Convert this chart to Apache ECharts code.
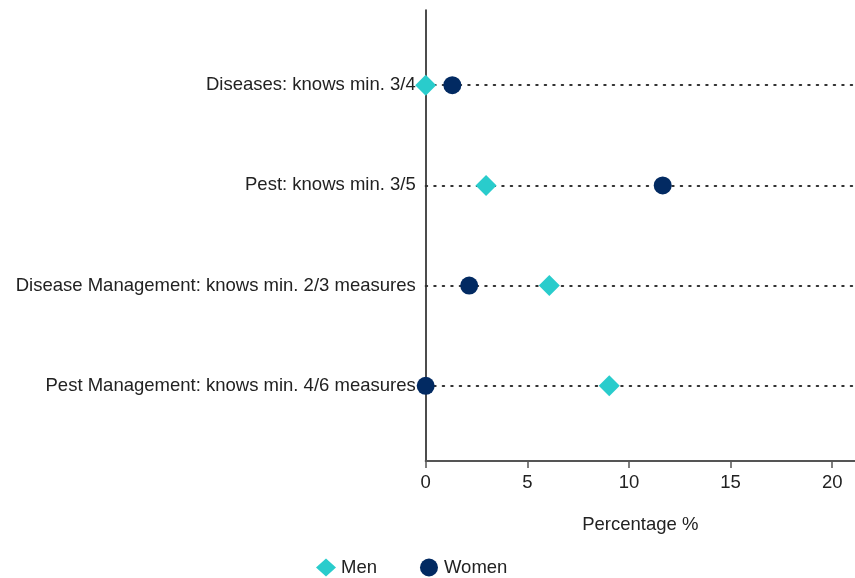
<!DOCTYPE html>
<html>
<head>
<meta charset="utf-8">
<script src="https://cdn.jsdelivr.net/npm/echarts@6/dist/echarts.min.js"></script>
<style>html,body{margin:0;padding:0;background:#fff}#c{width:855px;height:578px}</style>
</head>
<body>
<div id="c"></div>
<script>
const categories = [
  'Diseases: knows min. 3/4',
  'Pest: knows min. 3/5',
  'Disease Management: knows min. 2/3 measures',
  'Pest Management: knows min. 4/6 measures'
];
const menValues = [0, 2.97, 6.08, 9.03];
const womenValues = [1.31, 11.66, 2.14, 0];
const xTicks = [0, 5, 10, 15, 20];
const seriesNames = ['Men', 'Women'];

const FONT = 'Liberation Sans, Arial, sans-serif';
const FS = 18.5;
const chart = echarts.init(document.getElementById('c'));
const toPts = vals => vals.map((v, i) => [v, i + 1]);

chart.setOption({
  animation: false,
  textStyle: { fontFamily: FONT },
  grid: { left: 425.7, right: 0, top: 10, bottom: 117, containLabel: false },
  xAxis: {
    type: 'value', min: 0, max: 21.12,
    name: 'Percentage %', nameLocation: 'middle', nameGap: 54,
    nameTextStyle: { fontSize: FS, color: '#222', fontFamily: FONT },
    axisLine: { lineStyle: { color: '#555', width: 2 } },
    axisTick: { show: true, length: 7, customValues: xTicks, lineStyle: { color: '#555', width: 1.5 } },
    axisLabel: { fontSize: FS, color: '#222', margin: 12, fontFamily: FONT, customValues: xTicks },
    splitLine: { show: false }
  },
  yAxis: {
    type: 'value', inverse: true, min: 0.25, max: 4.75, interval: 0.25,
    axisLine: { show: true, lineStyle: { color: '#111', width: 1.5 } },
    axisTick: { show: false },
    splitLine: { show: false },
    axisLabel: { fontSize: FS, color: '#222', margin: 10, fontFamily: FONT,
      formatter: v => { const i = Math.round(v); return Math.abs(v - i) < 1e-6 && categories[i - 1] ? categories[i - 1] : ''; } }
  },
  legend: {
    data: [ { name: 'Men', icon: 'diamond' }, { name: 'Women', icon: 'circle' } ],
    left: 311, top: 553, itemWidth: 20, itemHeight: 18, itemGap: 43,
    textStyle: { fontSize: FS, color: '#222', fontFamily: FONT }
  },
  series: [
    {
      type: 'scatter', data: [], silent: true, z: 1,
      markLine: {
        silent: true, symbol: 'none', label: { show: false }, z: 1,
        lineStyle: { color: '#333', width: 2, type: [1.5, 7], cap: 'round' },
        data: categories.map((c, i) => ({ yAxis: i + 1 }))
      }
    },
    {
      name: seriesNames[0], type: 'scatter', symbol: 'diamond', symbolSize: [21, 21], z: 10,
      itemStyle: { color: '#29CCCC', opacity: 1 },
      data: toPts(menValues)
    },
    {
      name: seriesNames[1], type: 'scatter', symbol: 'circle', symbolSize: 18, z: 11,
      itemStyle: { color: '#022A62', opacity: 1 },
      data: toPts(womenValues)
    }
  ]
});
</script>
</body>
</html>
